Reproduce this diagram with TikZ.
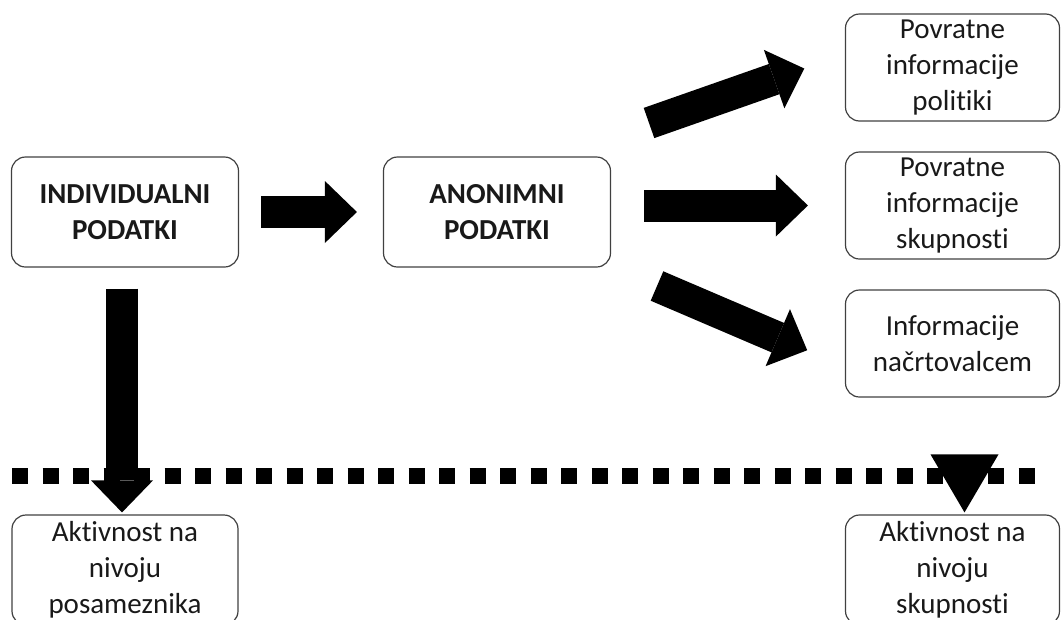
\documentclass[tikz,border=0pt]{standalone}
\usepackage{fontspec}
\setmainfont{Carlito}[Ligatures={NoCommon,NoContextual}, Contextuals=NoAlternate]
\usepackage{tikz}
\usetikzlibrary{arrows.meta,calc}
\tikzstyle{box} = [rectangle, rounded corners=14pt, minimum width=214pt, minimum height=107pt, align=center, draw=black!75, line width=1.2pt, text=black!90, font=\fontsize{29}{36}\selectfont, inner sep=2pt]
\tikzstyle{boldbox} = [box, minimum width=227pt, minimum height=110pt, font=\fontsize{29}{36}\selectfont\bfseries]
\tikzstyle{blockarrow} = [line width=32pt, -{Triangle[length=32pt,width=62pt,line width=0pt]}]

\begin{document}
\begin{tikzpicture}[x=1pt,y=-1pt]
\useasboundingbox (0,0) rectangle (1062,619);
\node (ind) [boldbox] at (125,212) {INDIVIDUALNI\\PODATKI};
\node (anon) [boldbox, right of=ind, node distance=372pt] {ANONIMNI\\PODATKI};
\node (skup) [box] at (952.5,205.5) {Povratne\\informacije\\skupnost\kern0pt i};
\node (pol) [box, above of=skup, node distance=138pt] {Povratne\\informacije\\polit\kern0pt iki};
\node (nacrt) [box, below of=skup, node distance=138pt] {Informacije\\načrtovalcem};
\node (akt1) [box, minimum width=226pt, minimum height=110pt, below of=ind, node distance=358pt] {Akt\kern0pt ivnost na\\nivoju\\posameznika};
\node (akt2) [box, minimum height=110pt, below of=skup, node distance=364.5pt] {Akt\kern0pt ivnost na\\nivoju\\skupnost\kern0pt i};

% dividing line
\draw [line width=16pt, dash pattern=on 16pt off 14.5pt] (12,476) -- (1037,476);

\coordinate (poltail) at (649,123);
\coordinate (nacrttail) at (657,286);
\draw [blockarrow, shorten <=22pt, shorten >=26pt] (ind) -- (anon);
\draw [blockarrow, shorten >=43pt] (poltail) -- (pol.173);
\draw [blockarrow, shorten <=33pt, shorten >=37pt] (anon.east |- skup.west) -- (skup.west);
\draw [blockarrow, shorten >=41pt] (nacrttail) -- (nacrt.192);
\draw [blockarrow, shorten <=21pt, shorten >=2pt] ([xshift=-3pt]ind.south) -- ([xshift=-3pt]akt1.north);
\fill ($(akt2.north)+(12,-2)$) -- ++(-34,-58) -- ++(68,0) -- cycle;
\end{tikzpicture}
\end{document}
